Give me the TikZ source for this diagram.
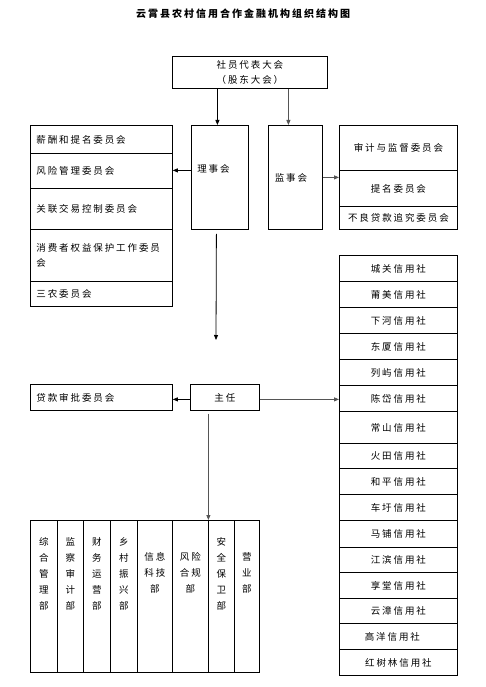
\documentclass[tikz,border=0pt]{standalone}
\usepackage{fontspec}
\setmainfont{Noto Sans CJK SC}[LetterSpace=20]
\usetikzlibrary{arrows.meta}
\definecolor{lgray}{HTML}{555555}
\newcommand\cjkfs{\fontsize{9.5}{15}\selectfont}
\tikzset{
  cell/.style={draw, line width=0.8pt, anchor=north west, inner sep=0pt, font=\cjkfs},
  lcell/.style={cell, align=left, text width=130pt, inner xsep=6pt, minimum width=142pt},
  ccell/.style={cell, align=center},
  txt/.style={inner sep=0pt, font=\cjkfs},
  vtxt/.style={inner sep=0pt, align=center, font=\fontsize{9.5}{16}\selectfont},
  arr/.style={-{Triangle[length=5pt,width=4pt]}, line width=0.8pt},
  garr/.style={arr, draw=lgray, fill=lgray}
}
\begin{document}
\begin{tikzpicture}[x=1pt,y=-1pt]
\useasboundingbox[fill=white] (0,0) rectangle (486,687);
% title
\node[inner sep=0pt, font=\fontsize{10}{12}\selectfont\bfseries] (title) at (243,14) {云霄县农村信用合作金融机构组织结构图};
% top
\node[ccell, minimum width=155pt, minimum height=32pt] (top) at (172,56) {社员代表大会\\（股东大会）};
% board and supervisors
\node[cell, minimum width=57pt, minimum height=104pt] (lsh) at (191,125) {};
\node[txt] (lshT) at (213.5,169) {理事会};
\node[cell, minimum width=54pt, minimum height=104pt] (jsh) at (268,125) {};
\node[txt] (jshT) at (291,178) {监事会};
% left committees
\node[lcell, minimum height=28pt] (l1) at (30,125) {薪酬和提名委员会};
\node[lcell, minimum height=35pt] (l2) at (30,153) {风险管理委员会};
\node[lcell, minimum height=41pt] (l3) at (30,188) {关联交易控制委员会};
\node[lcell, minimum height=52pt] (l4) at (30,229) {消费者权益保护工作委员\\会};
\node[lcell, minimum height=25pt] (l5) at (30,281) {三农委员会};
% right committees
\node[ccell, minimum width=118pt, minimum height=45pt] (rt1) at (339,125) {审计与监督委员会};
\node[ccell, minimum width=118pt, minimum height=36pt] (rt2) at (339,170) {提名委员会};
\node[ccell, minimum width=118pt, minimum height=23pt] (rt3) at (339,206) {不良贷款追究委员会};
% director
\node[ccell, minimum width=69pt, minimum height=26pt] (zr) at (190,384) {主任};
\node[lcell, minimum height=26pt] (dk) at (30,384) {贷款审批委员会};
% credit unions
\foreach \i/\y/\h/\t in {1/255/26/城关信用社, 2/281/26/莆美信用社, 3/307/26/下河信用社,
  4/333/26/东厦信用社, 5/359/26/列屿信用社, 6/385/26/陈岱信用社, 7/411/32/常山信用社,
  8/443/25/火田信用社, 9/468/26/和平信用社, 10/494/26/车圩信用社, 11/520/27/马铺信用社,
  12/547/25/江滨信用社, 13/572/26/享堂信用社, 14/598/25/云漳信用社, 16/649/26/红树林信用社}
  \node[ccell, minimum width=118pt, minimum height=\h pt] (cu\i) at (339,\y) {\t};
\node[ccell, minimum width=118pt, minimum height=26pt] (cu15) at (339,623) {\kern-12pt 高洋信用社};
% departments
\foreach \i/\x/\w in {1/30/27, 2/57/26, 3/83/27, 4/110/27, 5/137/35, 6/172/36, 7/208/26, 8/234/25}
  \node[cell, minimum width=\w pt, minimum height=152pt] (dp\i) at (\x,520) {};
\node[vtxt] (dt1) at (dp1.center |- 0,574) {综\\合\\管\\理\\部};
\node[vtxt] (dt2) at (dp2.center |- 0,574) {监\\察\\审\\计\\部};
\node[vtxt] (dt3) at (dp3.center |- 0,574) {财\\务\\运\\营\\部};
\node[vtxt] (dt4) at (dp4.center |- 0,574) {乡\\村\\振\\兴\\部};
\node[vtxt] (dt5) at (dp5.center |- 0,573) {信息\\科技\\部};
\node[vtxt] (dt6) at (dp6.center |- 0,573) {风险\\合规\\部};
\node[vtxt] (dt7) at (dp7.center |- 0,574) {安\\全\\保\\卫\\部};
\node[vtxt] (dt8) at (dp8.center |- 0,573) {营\\业\\部};
% connectors
\coordinate (a1) at ([xshift=-32.5pt]top.south);
\draw[arr] (a1) -- (a1 |- lsh.north);
\coordinate (a2) at ([xshift=38.5pt]top.south);
\draw[garr] (a2) -- (a2 |- jsh.north);
\coordinate (a3) at ([yshift=7pt]lsh.west);
\draw[arr] (a3) -- (a3 -| l2.east);
\draw[garr] (jsh.east) -- (jsh.east -| rt1.west);
\coordinate (d1) at ([xshift=-3.5pt,yshift=-4pt]lsh.south);
\coordinate (d1e) at (216,340);
\draw[arr] (d1) -- (d1e);
\coordinate (a6) at ([yshift=-2pt]zr.west);
\draw[arr] (a6) -- (a6 -| dk.east);
\coordinate (a7) at ([yshift=-2pt]zr.east);
\draw[garr] (a7) -- (a7 -| cu6.west);
\coordinate (d2) at ([xshift=-16.5pt,yshift=-3pt]zr.south);
\draw[garr] (d2) -- (d2 |- dp6.north);
\end{tikzpicture}
\end{document}
